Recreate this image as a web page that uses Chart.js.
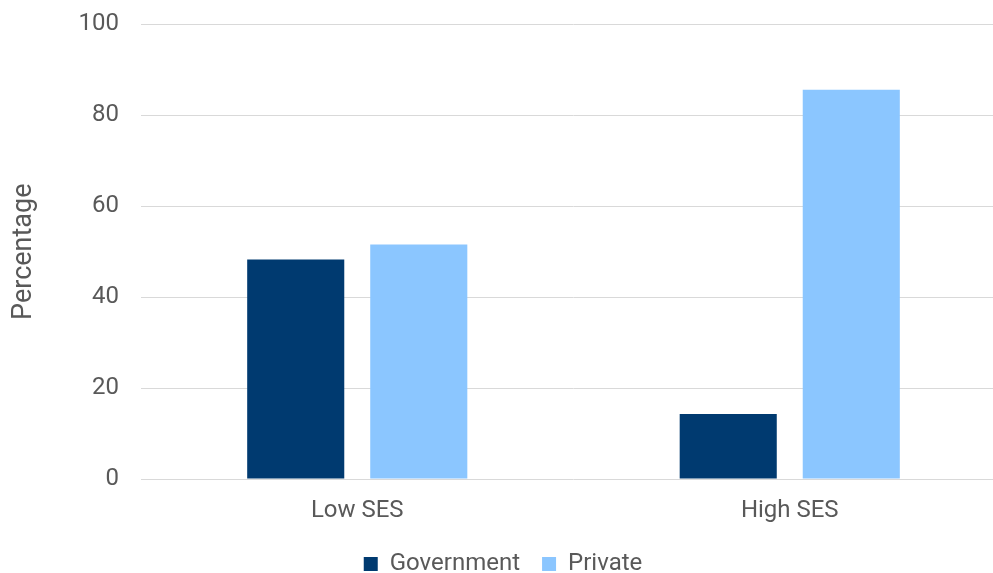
<!DOCTYPE html>
<html>
<head>
<meta charset="utf-8">
<script src="https://cdn.jsdelivr.net/npm/chart.js@4.4.0/dist/chart.umd.min.js"></script>
<style>
  html, body { margin: 0; padding: 0; background: #fff; overflow: hidden; }
  #wrap { position: absolute; left: 0; top: 0; width: 1006px; height: 586px; }
</style>
</head>
<body>
<div id="wrap"><canvas id="myChart"></canvas></div>
<script>
// chart values
const categories = ['Low SES', 'High SES'];
const government = [48.3, 14.3];
const privateSchools = [51.6, 85.6];
const yTicks = [0, 20, 40, 60, 80, 100];

const textColor = '#595959';
const fontFamily = 'Roboto, "Liberation Sans", sans-serif';

const data = {
  labels: categories,
  datasets: [{
    label: 'Government',
    data: government,
    backgroundColor: '#003a70',
    borderWidth: 0
  }, {
    label: 'Private',
    data: privateSchools,
    backgroundColor: '#8bc6ff',
    borderWidth: 0
  }]
};

const config = {
  type: 'bar',
  data: data,
  options: {
    responsive: true,
    maintainAspectRatio: false,
    animation: false,
    layout: { padding: 0 },
    datasets: {
      bar: { categoryPercentage: 0.569, barPercentage: 0.789 }
    },
    plugins: {
      tooltip: { enabled: false },
      legend: {
        position: 'bottom',
        labels: {
          color: textColor,
          font: { family: fontFamily, size: 24 },
          boxWidth: 14,
          boxHeight: 14,
          padding: 22
        }
      }
    },
    scales: {
      x: {
        grid: { display: false },
        border: { display: false },
        ticks: {
          color: textColor,
          font: { family: fontFamily, size: 24 },
          padding: 10
        },
        afterFit: function(scale) {
          scale.height = 51;
        }
      },
      y: {
        min: 0,
        max: 100,
        afterBuildTicks: function(scale) {
          scale.ticks = yTicks.map(v => ({ value: v }));
        },
        afterFit: function(scale) {
          scale.width = 141;
        },
        grid: {
          color: '#d9d9d9',
          lineWidth: 1,
          drawTicks: true,
          tickLength: 12,
          tickColor: 'rgba(0,0,0,0)'
        },
        border: { display: false },
        ticks: {
          color: textColor,
          font: { family: fontFamily, size: 24 },
          padding: 10
        },
        title: {
          display: true,
          text: 'Percentage',
          color: textColor,
          font: { family: fontFamily, size: 27 },
          padding: { top: 8, bottom: 0 }
        }
      }
    }
  }
};

const myChart = new Chart(document.getElementById('myChart'), config);
</script>
</body>
</html>
